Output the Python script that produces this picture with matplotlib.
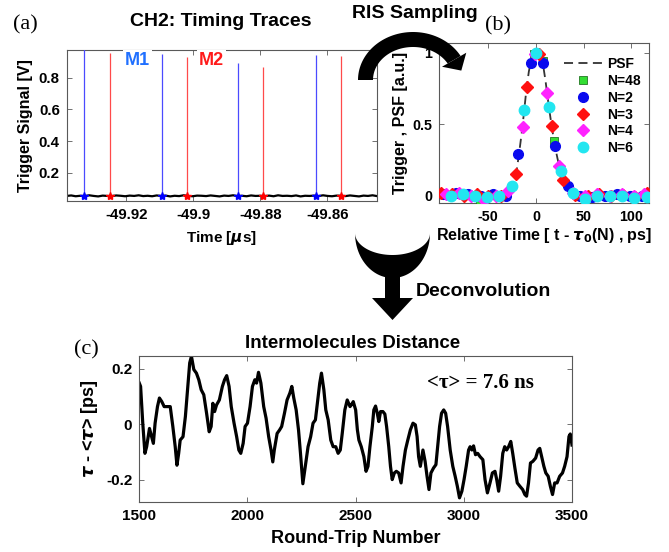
import numpy as np
import matplotlib
matplotlib.use('Agg')
import matplotlib.pyplot as plt
from matplotlib.patches import Polygon

plt.rcParams['font.family'] = ['Liberation Sans', 'DejaVu Sans']
plt.rcParams['font.weight'] = 'bold'
plt.rcParams['axes.unicode_minus'] = False
plt.rcParams['axes.labelweight'] = 'bold'

# ---------------- data ----------------
# (a) timing traces
a_xticks = [-49.92, -49.90, -49.88, -49.86]
a_xticklabels = ['-49.92', '-49.9', '-49.88', '-49.86']
a_yticks = [0.2, 0.4, 0.6, 0.8]
a_yticklabels = ['0.2', '0.4', '0.6', '0.8']
m1_times = [-49.9325, -49.9094, -49.8866, -49.8635]
m1_peaks = [0.99, 0.948, 0.893, 0.941]
m2_times = [-49.9250, -49.9019, -49.8791, -49.8560]
m2_peaks = [0.956, 0.930, 0.867, 0.935]
baseline_values = [0.055, 0.058, 0.053, 0.056, 0.054, 0.059, 0.055, 0.052, 0.057, 0.055,
                   0.054, 0.058, 0.056, 0.053, 0.057, 0.055, 0.059, 0.054, 0.056, 0.053,
                   0.058, 0.055, 0.057, 0.052, 0.056, 0.054, 0.059, 0.055, 0.053, 0.057,
                   0.056, 0.054, 0.058, 0.055, 0.052, 0.057, 0.055, 0.059, 0.054, 0.056,
                   0.053, 0.058, 0.055, 0.056, 0.054, 0.057, 0.053, 0.059, 0.055, 0.056,
                   0.054, 0.058, 0.052, 0.056, 0.055, 0.057, 0.054, 0.059, 0.055, 0.053,
                   0.057, 0.056, 0.054, 0.058, 0.055, 0.052, 0.057, 0.055, 0.059, 0.054]
baseline_range = (-49.9378, -49.8452)

# (b) RIS sampling / PSF
psf_t = [-101, -60, -40, -35, -30, -25, -20, -17.5, -15, -12.5, -10, -7.5, -5, -2.5, 0,
         2.5, 5, 7.5, 10, 12.5, 15, 17.5, 20, 22.5, 25, 27.5, 30, 35, 40, 45, 60, 118]
psf_v = [0.0, 0.0, 0.0, 0.004, 0.02, 0.075, 0.19, 0.31, 0.44, 0.59, 0.75, 0.87, 0.95, 0.99, 1.0,
         0.99, 0.97, 0.91, 0.8, 0.67, 0.55, 0.44, 0.34, 0.26, 0.19, 0.13, 0.09, 0.045, 0.015, 0.0, 0.0, 0.0]
n48_t = [-58.7, -2.0, 7.7, 18.9]
n48_v = [-0.04, 0.99, 0.94, 0.38]
n2_t = [-97, -84, -71, -58, -45, -32, -18.5, -5.5, 7.7, 20, 33, 46, 59, 72, 85, 98, 111]
n2_v = [0.01, 0.02, 0.01, 0.0, 0.01, -0.005, 0.29, 0.93, 0.93, 0.35, 0.07, 0.0, -0.01, 0.0, 0.01, -0.005, 0.0]
n3_t = [-100, -88, -75, -62, -50, -37, -21, -9.8, 3, 16.4, 28.6, 41, 54, 66, 79, 91, 104, 116.5]
n3_v = [0.02, 0.01, 0.0, 0.01, 0.0, 0.0, 0.15, 0.76, 0.99, 0.49, 0.11, 0.005, 0.0, 0.01, -0.005, 0.005, -0.01, 0.02]
n4_t = [-94, -81, -68, -55, -42, -29, -14, -1.5, 11.2, 24.4, 38.4, 51, 64, 77, 90, 103, 113]
n4_v = [0.01, 0.02, 0.0, -0.03, 0.0, 0.03, 0.48, 0.99, 0.72, 0.21, 0.02, 0.0, 0.01, 0.0, 0.01, 0.0, 0.01]
n6_t = [-89.5, -77, -64, -51, -38.4, -25.5, -12.2, 0, 13.3, 25.9, 38.7, 51.4, 64, 77, 90, 103, 116]
n6_v = [0.0, 0.01, 0.0, -0.006, 0.0, 0.068, 0.60, 1.0, 0.62, 0.17, 0.02, -0.025, 0.0, 0.0, 0.0, -0.016, -0.01]
b_xticks = [-50, 0, 50, 100]
b_yticks = [0, 0.5, 1]
b_yticklabels = ['0', '0.5', '1']

# (c) intermolecule distance
rt_number = [1500, 1506, 1516, 1526, 1534, 1547, 1553, 1565, 1573, 1584, 1593, 1604, 1615, 1627,
             1643, 1655, 1666, 1674, 1682, 1689, 1702, 1713, 1724, 1733, 1741, 1752, 1764, 1775,
             1786, 1798, 1811, 1823, 1832, 1840, 1848, 1857, 1870, 1884, 1894, 1904, 1915, 1925,
             1938, 1950, 1960, 1969, 1980, 1989, 2000, 2012, 2023, 2034, 2042, 2051, 2062, 2075,
             2086, 2098, 2109, 2117, 2124, 2137, 2148, 2158, 2171, 2183, 2196, 2205, 2214, 2225,
             2236, 2245, 2256, 2267, 2280, 2292, 2303, 2314, 2323, 2334, 2342, 2353, 2362, 2373,
             2385, 2396, 2408, 2419, 2429, 2438, 2450, 2461, 2474,
             2480, 2489, 2500, 2508, 2515, 2526, 2538, 2548, 2557, 2566, 2577, 2584, 2592, 2600,
             2607, 2615, 2626, 2635, 2643, 2653, 2661, 2669, 2679, 2688, 2699, 2710, 2719, 2730,
             2741, 2753, 2765, 2776, 2784, 2791, 2799, 2811, 2821, 2830, 2839, 2848, 2860, 2871,
             2879, 2888, 2897, 2907, 2916, 2925, 2937, 2949, 2960, 2970, 2980, 2991, 3001, 3011,
             3022, 3029, 3037, 3045, 3054, 3064, 3075, 3088, 3098, 3109, 3121, 3132, 3144, 3152,
             3161, 3170, 3180, 3189, 3198, 3207, 3217, 3226, 3236, 3247, 3259, 3272, 3282, 3290,
             3299, 3308, 3319, 3332, 3343, 3351, 3360, 3370, 3379, 3390, 3400, 3410, 3420, 3431,
             3443, 3456, 3466, 3477, 3486, 3492, 3500]
tau_dev = [0.149, 0.137, 0.004, -0.105, -0.081, -0.015, -0.033, -0.069, 0.004, 0.064, 0.095, 0.082,
           0.064, 0.064, 0.064, -0.008, -0.081, -0.148, -0.105, -0.057, -0.045, 0.028, 0.137, 0.222,
           0.246, 0.198, 0.185, 0.161, 0.125, 0.107, 0.040, -0.027, -0.008, 0.076, 0.046, 0.070,
           0.088, 0.137, 0.161, 0.176, 0.137, 0.064, 0.004, -0.045, -0.093, -0.105, -0.069, -0.008,
           0.004, 0.064, 0.137, 0.161, 0.149, 0.188, 0.149, 0.064, 0.022, -0.045, -0.093, -0.136,
           -0.093, -0.033, -0.021, -0.008, 0.040, 0.088, 0.113, 0.137, 0.095, 0.052, -0.021, -0.105,
           -0.215, -0.154, -0.081, -0.045, 0.004, 0.016, 0.076, 0.149, 0.185, 0.125, 0.052, 0.016,
           -0.057, -0.081, -0.081, -0.105, -0.093, -0.033, 0.052, 0.088, 0.064,
           0.070, 0.082, 0.052, -0.020, -0.057, -0.081, -0.117, -0.170, -0.152, -0.081, -0.008,
           0.052, 0.066, 0.040, 0.010, 0.046, 0.046, 0.037, -0.008, -0.081, -0.152, -0.200, -0.176,
           -0.170, -0.176, -0.212, -0.152, -0.093, -0.057, -0.020, 0.004, -0.002, -0.044, -0.117,
           -0.152, -0.093, -0.134, -0.188, -0.236, -0.176, -0.158, -0.146, -0.081, -0.008, 0.040,
           0.052, 0.040, -0.008, -0.093, -0.152, -0.188, -0.224, -0.266, -0.242, -0.200, -0.152,
           -0.093, -0.081, -0.093, -0.078, -0.110, -0.105, -0.117, -0.128, -0.200, -0.248, -0.212,
           -0.176, -0.170, -0.200, -0.242, -0.188, -0.105, -0.081, -0.093, -0.081, -0.062, -0.105,
           -0.158, -0.212, -0.224, -0.236, -0.254, -0.260, -0.212, -0.140, -0.134, -0.122, -0.093,
           -0.087, -0.117, -0.152, -0.176, -0.188, -0.224, -0.254, -0.212, -0.212, -0.188, -0.176,
           -0.152, -0.117, -0.044, -0.035, -0.075]
c_xticks = [1500, 2000, 2500, 3000, 3500]
c_yticks = [-0.2, 0, 0.2]
c_yticklabels = ['-0.2', '0', '0.2']

# ---------------- figure ----------------
W, H = 669, 552
fig = plt.figure(figsize=(W / 100, H / 100), dpi=100)


def px_axes(l, t, r, b):
    return fig.add_axes([l / W, 1 - b / H, (r - l) / W, (b - t) / H])


def style(ax, size=10.5):
    for s in ax.spines.values():
        s.set_color('0.35')
        s.set_linewidth(0.8)
    ax.tick_params(direction='in', top=True, right=True, length=3.5, width=0.6,
                   color='0.35', labelsize=size, pad=5)
    for lab in ax.get_xticklabels() + ax.get_yticklabels():
        lab.set_fontweight('bold')


# (a)
axa = px_axes(66.7, 50, 377, 200.7)
bt = np.linspace(baseline_range[0], baseline_range[1], len(baseline_values))
axa.plot(bt, baseline_values, color='black', lw=1.6, zorder=2)
axa.vlines(m1_times, 0.055, m1_peaks, color='#4a4aff', lw=0.9, zorder=3)
axa.vlines(m2_times, 0.055, m2_peaks, color='#ff4a4a', lw=0.9, zorder=3)
axa.plot(m1_times, [0.055] * len(m1_times), ls='none', marker='*', ms=6, color='blue', zorder=4)
axa.plot(m2_times, [0.055] * len(m2_times), ls='none', marker='*', ms=6, color='red', zorder=4)
axa.set_xlim(baseline_range)
axa.set_ylim(0.025, 0.973)
axa.set_xticks(a_xticks)
axa.set_xticklabels(a_xticklabels)
axa.set_yticks(a_yticks)
axa.set_yticklabels(a_yticklabels)
axa.set_xlabel(r'Time [$\mu$s]', fontsize=11, labelpad=5)
axa.set_ylabel('Trigger Signal [V]', fontsize=11.5, labelpad=4)
style(axa, size=10.8)
axa.text(-49.9167, 0.905, 'M1', color='#2070ff', fontsize=13, fontweight='bold', ha='center',
         va='center', zorder=6, clip_on=False,
         bbox=dict(facecolor='white', edgecolor='none', pad=1.5))
axa.text(-49.8946, 0.905, 'M2', color='#ff1a1a', fontsize=13, fontweight='bold', ha='center',
         va='center', zorder=6, clip_on=False,
         bbox=dict(facecolor='white', edgecolor='none', pad=1.5))

# (b)
axb = px_axes(439.3, 43.3, 649, 202.7)
axb.plot(psf_t, psf_v, ls=(0, (5, 3)), color='#333333', lw=1.3, label='PSF', zorder=2)
mk = dict(ls='none', zorder=3)
axb.plot(n48_t, n48_v, marker='s', ms=5.5, mfc='#33dd33', mec='#227722', mew=0.6, label='N=48', **mk)
axb.plot(n2_t, n2_v, marker='o', ms=7, mfc='#0a0aee', mec='#0a0aee', label='N=2', **mk)
axb.plot(n3_t, n3_v, marker='D', ms=6, mfc='#ff1010', mec='#ff1010', label='N=3', **mk)
axb.plot(n4_t, n4_v, marker='D', ms=6, mfc='#ff22ff', mec='#ff22ff', label='N=4', **mk)
axb.plot(n6_t, n6_v, marker='o', ms=7.5, mfc='#22e6f0', mec='#22e6f0', label='N=6', **mk)
axb.set_xlim(-101.4, 118.4)
axb.set_ylim(-0.049, 1.066)
axb.set_xticks(b_xticks)
axb.set_yticks(b_yticks)
axb.set_yticklabels(b_yticklabels)
axb.set_xlabel(r'Relative Time [ t - $\tau_0$(N) , ps]', fontsize=11.5, labelpad=2)
axb.set_ylabel('Trigger , PSF [a.u.]', fontsize=11.5, labelpad=3)
style(axb, size=10.3)
leg = axb.legend(loc='upper right', frameon=False, fontsize=10, numpoints=1,
                 handlelength=2.8, labelspacing=0.2, borderaxespad=0.2, handletextpad=0.3,
                 bbox_to_anchor=(1.0, 0.965))
for t in leg.get_texts():
    t.set_fontweight('bold')

# (c)
axc = px_axes(139.3, 356, 572, 502)
axc.plot(rt_number, tau_dev, color='black', lw=2.3)
axc.set_xlim(1500, 3500)
axc.set_ylim(-0.281, 0.247)
axc.set_xticks(c_xticks)
axc.set_yticks(c_yticks)
axc.set_yticklabels(c_yticklabels)
axc.set_xlabel('Round-Trip Number', fontsize=13, labelpad=5)
axc.set_ylabel(r'$\tau$ - <$\tau$> [ps]', fontsize=13, labelpad=4)
style(axc, size=11)

# overlay for annotations / arrows
ov = fig.add_axes([0, 0, 1, 1], zorder=10)
ov.set_xlim(0, W)
ov.set_ylim(0, H)
ov.axis('off')
ov.patch.set_alpha(0)


def Y(y):
    return H - y


serif = ['Liberation Serif', 'DejaVu Serif']
ov.text(25, Y(25), '(a)', family=serif, fontweight='normal', fontsize=16, ha='center', va='center')
ov.text(498, Y(26), '(b)', family=serif, fontweight='normal', fontsize=16, ha='center', va='center')
ov.text(86, Y(350), '(c)', family=serif, fontweight='normal', fontsize=16, ha='center', va='center')
ov.text(221, Y(22), 'CH2: Timing Traces', fontsize=14, fontweight='bold', ha='center', va='center')
ov.text(415, Y(13), 'RIS Sampling', fontsize=14, fontweight='bold', ha='center', va='center')
ov.text(483, Y(292), 'Deconvolution', fontsize=14, fontweight='bold', ha='center', va='center')
ov.text(353, Y(343), 'Intermolecules Distance', fontsize=13.5, fontweight='bold', ha='center', va='center')
ov.text(480, Y(383), '<τ> = 7.6 ns', family=serif, fontsize=15, fontweight='bold', ha='center', va='center')

# curved RIS arrow (elliptic band + head), pixel coordinates of the picture
ecx, ecy = 413, 80
a_o, b_o, a_i, b_i = 55, 48, 40, 33
t_end = np.deg2rad(30)
tt = np.linspace(np.pi, t_end, 60)
outer = [(ecx + a_o * np.cos(t), Y(ecy - b_o * np.sin(t))) for t in tt]
inner = [(ecx + a_i * np.cos(t), Y(ecy - b_i * np.sin(t))) for t in tt[::-1]]
ov.add_patch(Polygon(outer + inner, closed=True, facecolor='black', edgecolor='none'))
po = np.array([ecx + a_o * np.cos(t_end), ecy - b_o * np.sin(t_end)])
pi_ = np.array([ecx + a_i * np.cos(t_end), ecy - b_i * np.sin(t_end)])
mid = (po + pi_) / 2
rdir = (po - pi_) / np.linalg.norm(po - pi_)
tdir = np.array([a_o * np.sin(t_end), b_o * np.cos(t_end)])
tdir = tdir / np.linalg.norm(tdir)
h1 = mid + 14 * rdir
h2 = mid - 14 * rdir
tip = mid + 13 * tdir
ov.add_patch(Polygon([(h1[0], Y(h1[1])), (tip[0], Y(tip[1])), (h2[0], Y(h2[1]))],
                     closed=True, facecolor='black', edgecolor='none'))

# crescent deconvolution arrow
ang = np.linspace(np.pi, 2 * np.pi, 60)
ccx, ccy = 392.5, 233
outer = [(ccx + 37.5 * np.cos(a), Y(ccy - 45 * np.sin(a))) for a in ang]
inner = [(ccx + 37.5 * np.cos(a), Y(ccy - 22 * np.sin(a))) for a in ang[::-1]]
ov.add_patch(Polygon(outer + inner, closed=True, facecolor='black', edgecolor='none'))
ov.add_patch(Polygon([(385, Y(272)), (400, Y(272)), (400, Y(299)), (385, Y(299))],
                     closed=True, facecolor='black', edgecolor='none'))
ov.add_patch(Polygon([(372, Y(298)), (413, Y(298)), (392.5, Y(320))],
                     closed=True, facecolor='black', edgecolor='none'))

fig.savefig('out.png', dpi=100)
